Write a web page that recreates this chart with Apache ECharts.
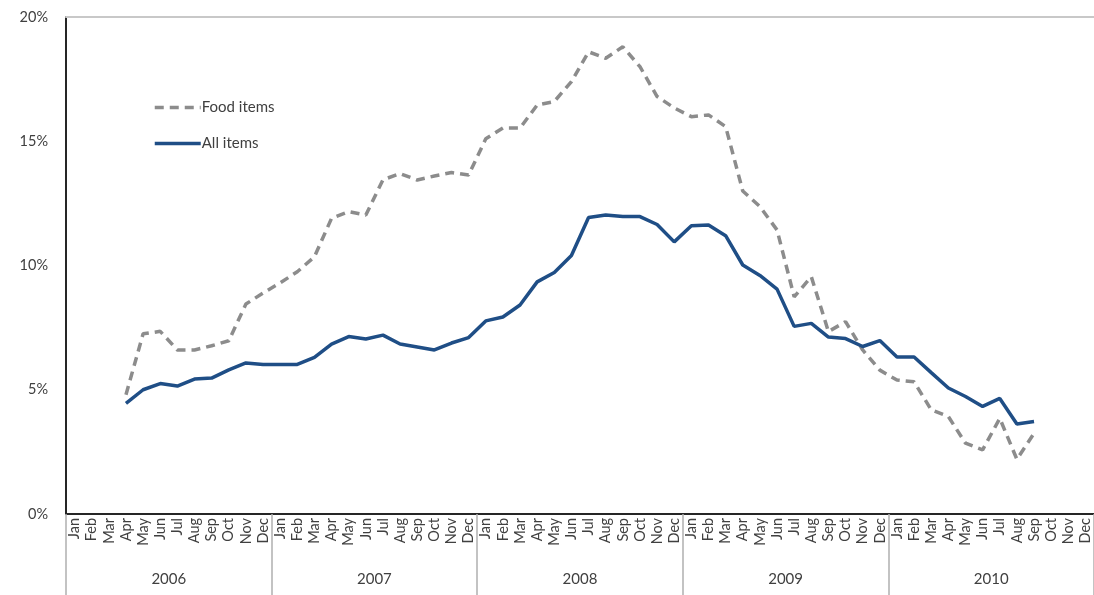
<!DOCTYPE html>
<html>
<head>
<meta charset="utf-8">
<title>Inflation: food items vs all items</title>
<script src="https://cdn.jsdelivr.net/npm/echarts@6/dist/echarts.min.js"></script>
<style>
  html, body { margin: 0; padding: 0; background: #ffffff; }
  #chart { width: 1094px; height: 595px; }
</style>
</head>
<body>
<div id="chart"></div>
<script>
// Month and year categories for the x axis (Jan 2006 - Dec 2010)
const monthNames = ['Jan','Feb','Mar','Apr','May','Jun','Jul','Aug','Sep','Oct','Nov','Dec'];
const years = ['2006','2007','2008','2009','2010'];
const yTicks = [0, 5, 10, 15, 20];

// Year-on-year inflation, percent
const foodItems = [
  null, null, null, 4.8, 7.25, 7.35, 6.6, 6.6, 6.77, 6.97, 8.45, 8.89,
  9.3, 9.75, 10.35, 11.9, 12.17, 12.03, 13.45, 13.7, 13.44, 13.6, 13.74, 13.64,
  15.1, 15.53, 15.53, 16.46, 16.6, 17.4, 18.6, 18.34, 18.8, 18.0, 16.8, 16.34,
  15.99, 16.06, 15.59, 13.0, 12.37, 11.43, 8.74, 9.55, 7.34, 7.74, 6.6, 5.79,
  5.39, 5.32, 4.19, 3.92, 2.85, 2.58, 3.85, 2.2, 3.25, null, null, null
];
const allItems = [
  null, null, null, 4.45, 5.0, 5.25, 5.15, 5.43, 5.47, 5.8, 6.08, 6.02,
  6.02, 6.02, 6.3, 6.84, 7.14, 7.04, 7.2, 6.84, 6.72, 6.6, 6.88, 7.1,
  7.77, 7.93, 8.41, 9.34, 9.72, 10.4, 11.93, 12.03, 11.97, 11.97, 11.65, 10.95,
  11.6, 11.63, 11.2, 10.02, 9.6, 9.05, 7.55, 7.67, 7.12, 7.06, 6.74, 6.98,
  6.32, 6.32, 5.69, 5.07, 4.73, 4.33, 4.65, 3.62, 3.72, null, null, null
];

const months = [];
years.forEach(function (y) {
  monthNames.forEach(function (m) { months.push(m + ' ' + y); });
});

const FONT = 'Lato, "Open Sans", sans-serif';
const TEXT = '#404040';

const chart = echarts.init(document.getElementById('chart'), null, { renderer: 'canvas' });
chart.setOption({
  animation: false,
  backgroundColor: '#ffffff',
  textStyle: { fontFamily: FONT, color: TEXT },
  grid: { left: 66, right: -3, top: 17, bottom: 81, containLabel: false },
  legend: {
    orient: 'vertical',
    left: 148,
    top: 95,
    itemWidth: 46,
    itemHeight: 14,
    itemGap: 21,
    itemStyle: { opacity: 0 },
    lineStyle: { width: 3.5 },
    textStyle: { fontFamily: FONT, fontSize: 15, color: TEXT, padding: [0, 0, 0, -4] },
    data: ['Food items', 'All items']
  },
  xAxis: [
    {
      type: 'category',
      data: months,
      boundaryGap: true,
      axisLine: { lineStyle: { color: '#262626', width: 2 } },
      axisTick: { show: false },
      axisLabel: {
        interval: 0,
        rotate: 90,
        margin: 4,
        fontFamily: FONT,
        fontSize: 14.5,
        color: TEXT,
        formatter: function (v) { return v.split(' ')[0]; }
      },
      splitLine: { show: false }
    },
    {
      // year band with separators under the month labels
      type: 'category',
      data: years,
      position: 'bottom',
      boundaryGap: true,
      axisLine: { show: false },
      axisTick: { show: true, length: 82, lineStyle: { color: '#b0b0b0', width: 1.5 } },
      axisLabel: { margin: 58, fontFamily: FONT, fontSize: 15, color: TEXT },
      splitLine: { show: false }
    },
    {
      // top frame line of the plot area
      type: 'category',
      data: months,
      position: 'top',
      axisLine: { lineStyle: { color: '#c8c8c8', width: 2 } },
      axisTick: { show: false },
      axisLabel: { show: false }
    }
  ],
  yAxis: {
    type: 'value',
    min: yTicks[0],
    max: yTicks[yTicks.length - 1],
    interval: 5,
    axisLine: { show: true, lineStyle: { color: '#262626', width: 2 } },
    axisTick: { show: false },
    splitLine: { show: false },
    axisLabel: {
      margin: 18,
      fontFamily: FONT,
      fontSize: 14.5,
      color: TEXT,
      formatter: '{value}%'
    }
  },
  series: [
    {
      name: 'Food items',
      type: 'line',
      xAxisIndex: 0,
      data: foodItems,
      symbol: 'none',
      connectNulls: false,
      itemStyle: { color: '#8c8c8c' },
      lineStyle: { color: '#8c8c8c', width: 3.5, type: [9, 6] }
    },
    {
      name: 'All items',
      type: 'line',
      xAxisIndex: 0,
      data: allItems,
      symbol: 'none',
      connectNulls: false,
      itemStyle: { color: '#1f4e86' },
      lineStyle: { color: '#1f4e86', width: 3.5 }
    }
  ]
});
</script>
</body>
</html>
